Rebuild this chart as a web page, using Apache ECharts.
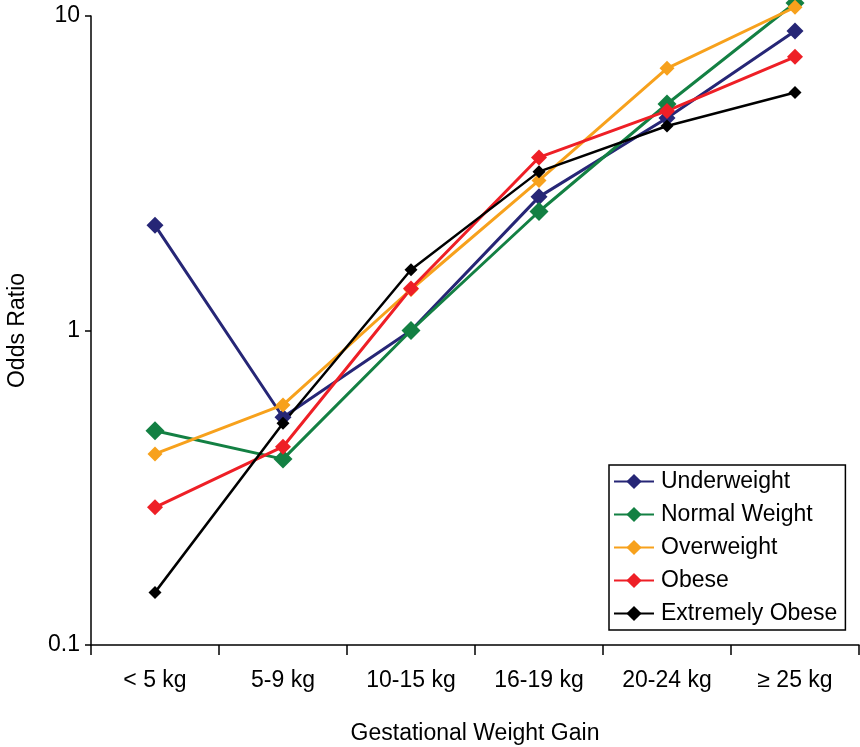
<!DOCTYPE html>
<html>
<head>
<meta charset="utf-8">
<script src="https://cdn.jsdelivr.net/npm/echarts@6/dist/echarts.min.js"></script>
<style>html,body{margin:0;padding:0;background:#fff}#c{width:860px;height:747px}</style>
</head>
<body>
<div id="c"></div>
<script>
var categories = ['< 5 kg', '5-9 kg', '10-15 kg', '16-19 kg', '20-24 kg', '\u2265 25 kg'];
var underweight = [2.16, 0.53, 1.0, 2.66, 4.74, 8.96];
var normalWeight = [0.48, 0.39, 1.0, 2.39, 5.25, 11.0];
var overweight = [0.405, 0.58, 1.35, 3.0, 6.82, 10.66];
var obese = [0.274, 0.427, 1.36, 3.55, 4.99, 7.42];
var extremelyObese = [0.147, 0.507, 1.56, 3.2, 4.47, 5.71];
var yTicks = [0.1, 1, 10];

var FONT = 'Liberation Sans';
function mk(name, data, color, size, width) {
  return {
    name: name, type: 'line', data: data, symbol: 'diamond', symbolSize: size,
    clip: false,
    lineStyle: {color: color, width: width},
    itemStyle: {color: color},
    emphasis: {disabled: true}
  };
}
var chart = echarts.init(document.getElementById('c'));
chart.setOption({
  animation: false,
  grid: {left: 91, right: 1, top: 16, bottom: 102, containLabel: false, outerBoundsMode: 'none'},
  xAxis: {
    type: 'category', data: categories, boundaryGap: true,
    axisLine: {lineStyle: {color: '#000', width: 1.5}},
    axisTick: {show: true, length: 10, inside: false, lineStyle: {color: '#000', width: 1.5}},
    axisLabel: {color: '#000', fontSize: 23, fontFamily: FONT, margin: 24},
    name: 'Gestational Weight Gain', nameLocation: 'middle', nameGap: 77,
    nameTextStyle: {color: '#000', fontSize: 23, fontFamily: FONT}
  },
  yAxis: {
    type: 'log', logBase: 10, min: yTicks[0], max: yTicks[2],
    axisLine: {show: true, lineStyle: {color: '#000', width: 1.5}},
    axisTick: {show: true, length: 6, lineStyle: {color: '#000', width: 1.5}},
    minorTick: {show: false},
    splitLine: {show: false},
    axisLabel: {color: '#000', fontSize: 23, fontFamily: FONT, margin: 11,
      formatter: function (v) { return String(v); }},
    name: 'Odds Ratio', nameLocation: 'middle', nameGap: 62,
    nameTextStyle: {color: '#000', fontSize: 23, fontFamily: FONT}
  },
  legend: {
    orient: 'vertical', left: 609, top: 465,
    padding: [5, 8, 5, 4],
    borderColor: '#000', borderWidth: 1.5,
    itemWidth: 40, itemHeight: 19, itemGap: 10,
    textStyle: {color: '#000', fontSize: 23, fontFamily: FONT, padding: [0, 0, 0, 2]},
    data: ['Underweight', 'Normal Weight', 'Overweight', 'Obese', 'Extremely Obese']
  },
  series: [
    mk('Underweight', underweight, '#262676', 17, 3),
    mk('Normal Weight', normalWeight, '#138043', 19, 3),
    mk('Overweight', overweight, '#f7a11c', 15, 3),
    mk('Obese', obese, '#ee1f26', 16, 3),
    mk('Extremely Obese', extremelyObese, '#000000', 13, 2.5)
  ]
});
</script>
</body>
</html>
